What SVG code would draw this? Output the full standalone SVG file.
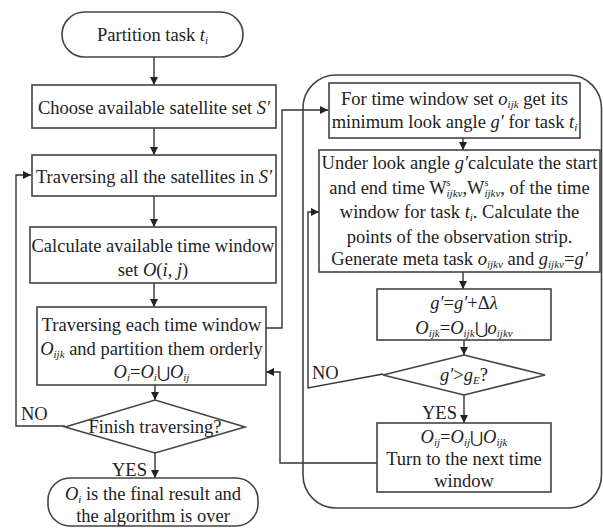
<svg xmlns="http://www.w3.org/2000/svg" width="603" height="530" viewBox="0 0 603 530">
  <defs>
    <marker id="arrow" viewBox="0 0 10 10" refX="10" refY="5" markerWidth="8" markerHeight="8" markerUnits="userSpaceOnUse" orient="auto">
      <path d="M0,0 L10,5 L0,10 z" fill="#222"/>
    </marker>
    <style>
      .shape { fill: #fff; stroke: #444; stroke-width: 1.6; }
      .frame { fill: none; stroke: #444; stroke-width: 1.6; }
      .conn { fill: none; stroke: #333; stroke-width: 1.4; }
      .arr { marker-end: url(#arrow); }
      text { font-family: "Liberation Serif", "Times New Roman", serif; font-size: 18.5px; fill: #222; }
      .c { text-anchor: middle; }
      .i { font-style: italic; }
      .s { font-size: 11px; font-style: italic; }
      .u { font-size: 16px; }
    </style>
  </defs>

  <!-- right-hand sub-process frame -->
  <path class="frame" d="M336,75 L569,75 A33,33 0 0 1 601.5,108 L601.5,475 A33,33 0 0 1 569,508 L336,508 A33,33 0 0 1 303,475 L303,108 A33,33 0 0 1 336,75 Z"/>

  <!-- connectors -->
  <g id="connectors">
    <line class="conn arr" x1="154" y1="57" x2="154" y2="85"/>
    <line class="conn arr" x1="154" y1="128" x2="154" y2="155"/>
    <line class="conn arr" x1="154" y1="196" x2="154" y2="227"/>
    <line class="conn arr" x1="154" y1="283" x2="154" y2="307"/>
    <line class="conn arr" x1="155" y1="385" x2="155" y2="400"/>
    <line class="conn arr" x1="155" y1="453" x2="155" y2="478"/>
    <polyline class="conn arr" points="65,426 16,426 16,175 31,175"/>
    <polyline class="conn arr" points="266,328 282,328 282,110 328,110"/>
    <line class="conn arr" x1="463" y1="138" x2="463" y2="150"/>
    <line class="conn arr" x1="463" y1="272" x2="463" y2="289"/>
    <line class="conn arr" x1="464" y1="340" x2="464" y2="355"/>
    <line class="conn arr" x1="464" y1="395" x2="464" y2="423"/>
    <polyline class="conn arr" points="383,374 308,388 308,212 319,212"/>
    <polyline class="conn arr" points="377,463 280,463 280,372 266,372"/>
    <text x="21" y="420">NO</text>
    <text x="112" y="476">YES</text>
    <text x="312" y="379">NO</text>
    <text x="422" y="419">YES</text>
  </g>

  <g id="start">
    <rect class="shape" x="62" y="12" width="181" height="45" rx="22.5"/>
    <text class="c" x="152.5" y="41">Partition task <tspan class="i">t</tspan><tspan class="s" dy="3">i</tspan></text>
  </g>

  <g id="choose-satellites">
    <rect class="shape" x="32" y="85" width="244" height="43"/>
    <text class="c" x="154" y="114">Choose available satellite set <tspan class="i">S′</tspan></text>
  </g>

  <g id="traverse-satellites">
    <rect class="shape" x="32" y="155" width="244" height="41"/>
    <text class="c" x="154" y="183">Traversing all the satellites in <tspan class="i">S′</tspan></text>
  </g>

  <g id="time-window-set">
    <rect class="shape" x="30" y="227" width="246" height="56"/>
    <text class="c" x="153" y="252">Calculate available time window</text>
    <text class="c" x="153" y="276">set <tspan class="i">O</tspan>(<tspan class="i">i</tspan>, <tspan class="i">j</tspan>)</text>
  </g>

  <g id="traverse-windows">
    <rect class="shape" x="37" y="307" width="229" height="78"/>
    <text class="c" x="151.5" y="331">Traversing each time window</text>
    <text class="c" x="151.5" y="355"><tspan class="i">O</tspan><tspan class="s" dy="3">ijk</tspan><tspan dy="-3"> and partition them orderly</tspan></text>
    <text class="c" x="151.5" y="378"><tspan class="i">O</tspan><tspan class="s" dy="3">i</tspan><tspan dy="-3">=</tspan><tspan class="i">O</tspan><tspan class="s" dy="3">i</tspan><tspan class="u" dy="-3">⋃</tspan><tspan class="i">O</tspan><tspan class="s" dy="3">ij</tspan></text>
  </g>

  <g id="finish-check">
    <polygon class="shape" points="65,427 155,400 245,427 155,453"/>
    <text class="c" x="155" y="433">Finish traversing?</text>
  </g>

  <g id="end">
    <rect class="shape" x="48" y="478" width="210" height="48" rx="22"/>
    <text class="c" x="153" y="500"><tspan class="i">O</tspan><tspan class="s" dy="3">i</tspan><tspan dy="-3"> is the final result and</tspan></text>
    <text class="c" x="153" y="522">the algorithm is over</text>
  </g>

  <g id="min-look-angle">
    <rect class="shape" x="329" y="83" width="251" height="55"/>
    <text class="c" x="454.5" y="105">For time window set <tspan class="i">o</tspan><tspan class="s" dy="3">ijk</tspan><tspan dy="-3"> get its</tspan></text>
    <text class="c" x="454.5" y="128">minimum look angle <tspan class="i">g′</tspan> for task <tspan class="i">t</tspan><tspan class="s" dy="3">i</tspan></text>
  </g>

  <g id="meta-task">
    <rect class="shape" x="319" y="150" width="281" height="122"/>
    <text class="c" x="459.5" y="169">Under look angle <tspan class="i">g′</tspan>calculate the start</text>
    <text class="c" x="459.5" y="194">and end time W<tspan font-size="10px" dy="-8">s</tspan><tspan class="s" dx="-4" dy="11">ijkv</tspan><tspan dy="-3">,W</tspan><tspan font-size="10px" dy="-8">s</tspan><tspan class="s" dx="-4" dy="11">ijkv</tspan><tspan dy="-3">, of the time</tspan></text>
    <text class="c" x="459.5" y="218">window for task <tspan class="i">t</tspan><tspan class="s" dy="3">i</tspan><tspan dy="-3">. Calculate the</tspan></text>
    <text class="c" x="459.5" y="243">points of the observation strip.</text>
    <text class="c" x="459.5" y="265">Generate meta task <tspan class="i">o</tspan><tspan class="s" dy="3">ijkv</tspan><tspan dy="-3"> and </tspan><tspan class="i">g</tspan><tspan class="s" dy="3">ijkv</tspan><tspan dy="-3">=</tspan><tspan class="i">g′</tspan></text>
  </g>

  <g id="angle-step">
    <rect class="shape" x="377" y="289" width="174" height="51"/>
    <text class="c" x="464" y="309"><tspan class="i">g′</tspan>=<tspan class="i">g′</tspan>+Δ<tspan class="i">λ</tspan></text>
    <text class="c" x="464" y="334"><tspan class="i">O</tspan><tspan class="s" dy="3">ijk</tspan><tspan dy="-3">=</tspan><tspan class="i">O</tspan><tspan class="s" dy="3">ijk</tspan><tspan class="u" dy="-3">⋃</tspan><tspan class="i">o</tspan><tspan class="s" dy="3">ijkv</tspan></text>
  </g>

  <g id="angle-check">
    <polygon class="shape" points="383,375 464,355 545,375 464,395"/>
    <text class="c" x="464" y="381"><tspan class="i">g′</tspan>&gt;<tspan class="i">g</tspan><tspan class="s" dy="3">E</tspan><tspan dy="-3">?</tspan></text>
  </g>

  <g id="next-window">
    <rect class="shape" x="377" y="423" width="174" height="69"/>
    <text class="c" x="464" y="443"><tspan class="i">O</tspan><tspan class="s" dy="3">ij</tspan><tspan dy="-3">=</tspan><tspan class="i">O</tspan><tspan class="s" dy="3">ij</tspan><tspan class="u" dy="-3">⋃</tspan><tspan class="i">O</tspan><tspan class="s" dy="3">ijk</tspan></text>
    <text class="c" x="464" y="465">Turn to the next time</text>
    <text class="c" x="464" y="487">window</text>
  </g>
</svg>
